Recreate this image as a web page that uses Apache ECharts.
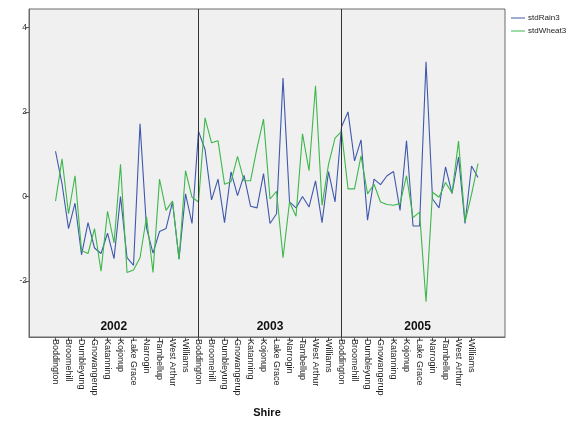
<!DOCTYPE html>
<html>
<head>
<meta charset="utf-8">
<script src="https://cdn.jsdelivr.net/npm/echarts@6/dist/echarts.min.js"></script>
<style>
html,body{margin:0;padding:0;background:#fff;}
#chart{width:569px;height:423px;}
</style>
</head>
<body>
<div id="chart"></div>
<script>
// Categories
var years = ['2002', '2003', '2005'];
var shires = ['Boddington','Broomehill','Dumbleyung','Gnowangerup','Katanning','Kojonup','Lake Grace','Narrogin','Tambellup','West Arthur','Williams'];
var pointsPerYear = 22; // two observations per shire label step

// Series values
var rain2002 = [1.07, 0.30, -0.76, -0.16, -1.38, -0.62, -1.22, -1.35, -0.87, -1.47, 0.00, -1.45, -1.63, 1.72, -0.75, -1.34, -0.83, -0.76, -0.13, -1.48, 0.06, -0.64];
var rain2003 = [1.54, 1.11, -0.08, 0.41, -0.62, 0.58, 0.02, 0.50, -0.23, -0.27, 0.54, -0.64, -0.41, 2.80, -0.13, -0.27, 0.00, -0.25, 0.37, -0.62, 0.59, -0.13];
var rain2005 = [1.65, 2.00, 0.84, 1.34, -0.56, 0.41, 0.28, 0.49, 0.59, -0.33, 1.32, -0.70, -0.70, 3.19, -0.06, -0.27, 0.70, 0.07, 0.93, -0.64, 0.72, 0.45];

var wheat2002 = [-0.11, 0.89, -0.41, 0.49, -1.28, -1.35, -0.76, -1.77, -0.35, -1.10, 0.76, -1.80, -1.74, -1.45, -0.48, -1.80, 0.41, -0.33, -0.11, -1.49, 0.61, -0.02];
var wheat2003 = [-0.13, 1.86, 1.27, 1.32, 0.29, 0.35, 0.95, 0.37, 0.37, 1.15, 1.83, -0.06, 0.12, -1.45, -0.13, -0.47, 1.48, 0.61, 2.62, -0.21, 0.76, 1.38];
var wheat2005 = [1.54, 0.18, 0.18, 0.96, 0.06, 0.29, -0.13, -0.19, -0.21, -0.17, 0.49, -0.50, -0.37, -2.49, 0.10, -0.02, 0.33, 0.08, 1.31, -0.60, 0.05, 0.78];

// Y tick labels
var yTicks = [-2, 0, 2, 4];

// ---- build ----
function toPairs(arrs) {
  var out = [];
  arrs.forEach(function (a, k) {
    a.forEach(function (v, i) { out.push([k * pointsPerYear + i, v]); });
  });
  return out;
}
var rainData = toPairs([rain2002, rain2003, rain2005]);
var wheatData = toPairs([wheat2002, wheat2003, wheat2005]);

var xTicks = [];
years.forEach(function (y, k) {
  shires.forEach(function (s, j) { xTicks.push(k * pointsPerYear + j * 2); });
});

var xMin = -4.08, xMax = 69.15;
var chart = echarts.init(document.getElementById('chart'), null, {renderer: 'canvas'});
chart.setOption({
  animation: false,
  backgroundColor: '#ffffff',
  grid: {left: 29, right: 64, top: 9, bottom: 81, show: true, backgroundColor: '#f0f0f0', borderColor: '#6a6a6a', borderWidth: 1},
  legend: {
    orient: 'vertical', left: 506, top: 9, itemWidth: 14, itemHeight: 1, itemGap: 5, icon: 'rect',
    textStyle: {fontSize: 8, color: '#222', fontFamily: 'Liberation Sans, Arial, sans-serif', padding: [0,0,0,-2]},
    data: ['stdRain3', 'stdWheat3']
  },
  xAxis: {
    type: 'value', min: xMin, max: xMax,
    name: 'Shire', nameLocation: 'middle', nameGap: 70,
    nameTextStyle: {fontSize: 11, fontWeight: 'bold', color: '#111', fontFamily: 'Liberation Sans, Arial, sans-serif'},
    axisLine: {show: true, onZero: false, lineStyle: {color: '#6a6a6a'}},
    axisTick: {show: true, length: 4, customValues: xTicks, lineStyle: {color: '#555'}},
    splitLine: {show: false},
    axisLabel: {
      customValues: xTicks, rotate: -90, margin: 2, fontSize: 9, color: '#222',
      fontFamily: 'Liberation Sans, Arial, sans-serif',
      formatter: function (v) {
        var r = Math.round(v) % pointsPerYear;
        return shires[r / 2] || '';
      }
    }
  },
  yAxis: {
    type: 'value', min: -3.326, max: 4.436,
    axisLine: {show: true, onZero: false, lineStyle: {color: '#6a6a6a'}},
    axisTick: {show: true, length: 4, customValues: yTicks, lineStyle: {color: '#555'}},
    splitLine: {show: false},
    axisLabel: {customValues: yTicks, fontSize: 8.5, color: '#333', margin: 2, fontFamily: 'Liberation Sans, Arial, sans-serif'}
  },
  series: [
    {
      name: 'stdRain3', type: 'line', data: rainData, symbol: 'none',
      lineStyle: {color: '#3e58ac', width: 1.1}, itemStyle: {color: '#3e58ac'},
      markLine: {
        silent: true, symbol: ['none', 'none'], label: {show: false},
        lineStyle: {color: '#333', width: 1, type: 'solid'},
        data: [{xAxis: pointsPerYear}, {xAxis: 2 * pointsPerYear}]
      },
      markArea: {
        silent: true,
        itemStyle: {color: 'rgba(0,0,0,0)'},
        label: {show: true, position: 'insideBottom', distance: 4, fontSize: 12, fontWeight: 'bold', color: '#111', fontFamily: 'Liberation Sans, Arial, sans-serif'},
        data: [
          [{name: years[0], xAxis: xMin}, {xAxis: pointsPerYear}],
          [{name: years[1], xAxis: pointsPerYear}, {xAxis: 2 * pointsPerYear}],
          [{name: years[2], xAxis: 2 * pointsPerYear}, {xAxis: 67.4}]
        ]
      }
    },
    {
      name: 'stdWheat3', type: 'line', data: wheatData, symbol: 'none',
      lineStyle: {color: '#3cb84a', width: 1.1}, itemStyle: {color: '#3cb84a'}
    }
  ]
});
</script>
</body>
</html>
